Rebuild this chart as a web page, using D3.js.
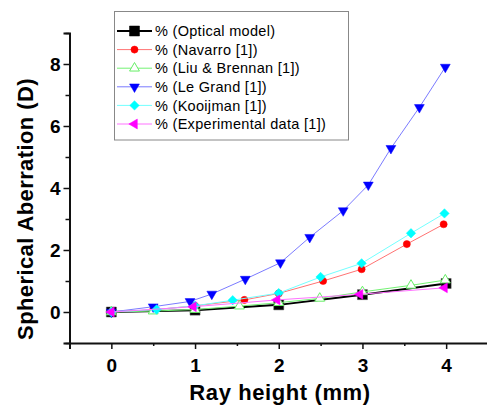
<html>
<head>
  <script src="https://cdn.jsdelivr.net/npm/d3@7/dist/d3.min.js"></script>
  <style>
    body { margin: 0; background: #fff; }
    text { font-family: Arial, "Liberation Sans", sans-serif; }
  </style>
</head>
<body>
  <svg id="container" width="487" height="406"></svg>
<script>
  // ray height (mm) and spherical aberration (D)
  const opticalX = [0, 1, 2, 3, 4];
  const opticalY = [0, 0.06, 0.23, 0.56, 0.92];
  const navarroX = [0, 0.5, 1, 1.59, 2, 2.53, 2.99, 3.53, 3.97];
  const navarroY = [0, 0.07, 0.2, 0.39, 0.6, 1.0, 1.38, 2.19, 2.83];
  const liuX = [0, 0.5, 1, 1.53, 2, 2.49, 3, 3.58, 3.99];
  const liuY = [0, 0.03, 0.08, 0.19, 0.3, 0.44, 0.65, 0.86, 1.03];
  const legrandX = [0, 0.5, 0.94, 1.2, 1.6, 2.02, 2.37, 2.77, 3.07, 3.34, 3.68, 3.99];
  const legrandY = [0, 0.17, 0.34, 0.58, 1.06, 1.59, 2.41, 3.27, 4.1, 5.28, 6.6, 7.9];
  const kooijmanX = [0, 0.54, 1, 1.45, 2, 2.5, 2.99, 3.58, 3.98];
  const kooijmanY = [0, 0.08, 0.2, 0.38, 0.61, 1.13, 1.57, 2.54, 3.18];
  const expX = [0, 0.98, 1.98, 2.97, 3.98];
  const expY = [0, 0.17, 0.39, 0.57, 0.78];

  const xTicks = [0, 1, 2, 3, 4];
  const yTicks = [0, 2, 4, 6, 8];

  const series = [
    {name: '% (Optical model)', xs: opticalX, ys: opticalY, line: '#000', mark: '#000', sym: d3.symbolSquare, size: 100, rot: 0, lw: 2, hollow: false},
    {name: '% (Navarro [1])', xs: navarroX, ys: navarroY, line: '#ff7373', mark: '#ff0000', sym: d3.symbolCircle, size: 40, rot: 0, lw: 1, hollow: false},
    {name: '% (Liu & Brennan [1])', xs: liuX, ys: liuY, line: '#73f273', mark: '#66ee66', sym: d3.symbolTriangle, size: 42, rot: 0, lw: 1, hollow: true},
    {name: '% (Le Grand [1])', xs: legrandX, ys: legrandY, line: '#7b7bff', mark: '#0000ff', sym: d3.symbolTriangle, size: 42, rot: 180, lw: 1, hollow: false},
    {name: '% (Kooijman [1])', xs: kooijmanX, ys: kooijmanY, line: '#73ffff', mark: '#00ffff', sym: d3.symbolSquare, size: 44, rot: 45, lw: 1, hollow: false},
    {name: '% (Experimental data [1])', xs: expX, ys: expY, line: '#ff73ff', mark: '#ff00ff', sym: d3.symbolTriangle, size: 42, rot: -90, lw: 1, hollow: false}
  ];

  const svg = d3.select('#container');

  const x = d3.scaleLinear().domain([-0.5, 4.5]).range([69.5, 488]);
  const y = d3.scaleLinear().domain([-1, 9]).range([343, 33]);

  // axes
  const xAxis = svg.append('g')
    .attr('transform', `translate(0, ${y(-1)})`)
    .call(d3.axisBottom(x).tickValues(xTicks).tickSize(6).tickFormat(d3.format('d')));
  svg.append('g')
    .attr('transform', `translate(0, ${y(-1)})`)
    .call(d3.axisBottom(x).tickValues([0.5, 1.5, 2.5, 3.5]).tickSize(3).tickFormat(''))
    .call(g => g.select('.domain').remove());
  const yAxis = svg.append('g')
    .attr('transform', `translate(${x(-0.5)}, 0)`)
    .call(d3.axisLeft(y).tickValues(yTicks).tickSize(6).tickFormat(d3.format('d')));
  svg.append('g')
    .attr('transform', `translate(${x(-0.5)}, 0)`)
    .call(d3.axisLeft(y).tickValues([-1, 1, 3, 5, 7, 9]).tickSize(4).tickFormat(''))
    .call(g => g.select('.domain').remove());

  svg.selectAll('.domain').attr('stroke', '#111').attr('stroke-width', 2);
  svg.selectAll('.tick line').attr('stroke', '#111').attr('stroke-width', 1.5);
  xAxis.selectAll('text')
    .attr('font-size', 19).attr('font-weight', 'bold').attr('fill', '#000').attr('dy', '1.05em');
  yAxis.selectAll('text')
    .attr('font-size', 19).attr('font-weight', 'bold').attr('fill', '#000').attr('x', -9);

  // axis titles
  svg.append('text')
    .attr('x', 280).attr('y', 400)
    .attr('text-anchor', 'middle')
    .attr('font-size', 22).attr('font-weight', 'bold')
    .attr('letter-spacing', 0.6)
    .text('Ray height (mm)');
  svg.append('text')
    .attr('transform', `translate(33, 209) rotate(-90)`)
    .attr('text-anchor', 'middle')
    .attr('font-size', 22).attr('font-weight', 'bold')
    .attr('letter-spacing', 0.4)
    .text('Spherical Aberration (D)');

  // lines then markers for each series
  const line = d3.line().x(d => x(d[0])).y(d => y(d[1]));
  series.forEach(s => {
    const pts = s.xs.map((v, i) => [v, s.ys[i]]);
    svg.append('path')
      .attr('d', line(pts))
      .attr('fill', 'none')
      .attr('stroke', s.line)
      .attr('stroke-width', s.lw);
    svg.selectAll(null)
      .data(pts)
      .enter()
      .append('path')
      .attr('d', d3.symbol().type(s.sym).size(s.size))
      .attr('transform', d => `translate(${x(d[0])}, ${y(d[1])}) rotate(${s.rot})`)
      .attr('fill', s.hollow ? '#fff' : s.mark)
      .attr('stroke', s.sym === d3.symbolSquare && s.rot === 0 ? '#555' : s.mark)
      .attr('stroke-width', s.hollow ? 1 : 0.5);
  });

  // legend
  const legend = svg.append('g');
  legend.append('rect')
    .attr('x', 114.5).attr('y', 11.5)
    .attr('width', 234).attr('height', 128.5)
    .attr('fill', '#fff').attr('stroke', '#888').attr('stroke-width', 1);
  series.forEach((s, i) => {
    const ly = 31 + i * 18.6;
    legend.append('line')
      .attr('x1', 117).attr('x2', 152).attr('y1', ly).attr('y2', ly)
      .attr('stroke', s.line).attr('stroke-width', s.lw);
    legend.append('path')
      .attr('d', d3.symbol().type(s.sym).size(s.size))
      .attr('transform', `translate(134.5, ${ly}) rotate(${s.rot})`)
      .attr('fill', s.hollow ? '#fff' : s.mark)
      .attr('stroke', s.mark)
      .attr('stroke-width', s.hollow ? 1 : 0.5);
    legend.append('text')
      .attr('x', 155).attr('y', ly).attr('dy', '0.36em')
      .attr('font-size', 14.5)
      .attr('letter-spacing', 0.3)
      .text(s.name);
  });
</script>
</body>
</html>
